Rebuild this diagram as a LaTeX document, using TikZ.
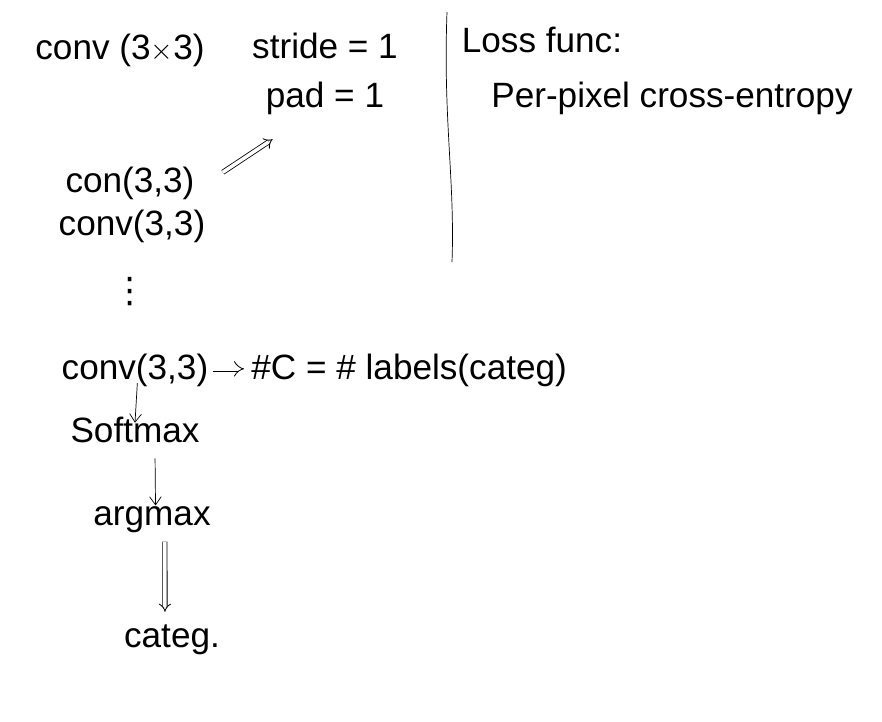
\documentclass[tikz,border=0pt]{standalone}
\usepackage{fontspec}
\setmainfont{Liberation Sans}
\newfontfamily\symfont{DejaVu Sans}
\usepackage{tikz}
\usetikzlibrary{arrows.meta, positioning}

\begin{document}
\begin{tikzpicture}[x=0.03cm, y=-0.03cm]
  \tikzset{
    txt/.style={inner sep=1pt, font=\fontsize{30}{34}\selectfont},
    arr/.style={-{Straight Barb[length=7pt, width=10pt]}, line width=0.6pt},
    dbl/.style={double, double distance=3pt, -{Implies}, line width=0.7pt},
  }
  \useasboundingbox (0,0) rectangle (882,722);
  \node[txt] (conv) at (120,50) {conv (3$\times$3)};
  \node[txt] (stride) at (325,46) {stride = 1};
  \node[txt] (pad) at (325,98) {pad = 1};
  \node[txt] (loss) at (542,40) {Loss func:};
  \node[txt] (xent) at (672,98) {Per-pixel cross-entropy};
  \node[txt] (con1) at (130,183) {con(3,3)};
  \node[txt] (con2) at (132,226) {conv(3,3)};
  \node[txt, font=\symfont\fontsize{30}{34}\selectfont] (dots) at (130,292) {⋮};
  \node[txt] (con3) at (135,370) {conv(3,3)};
  \node[txt, anchor=west] (lab) at (250,370) {\#C = \# labels(categ)};
  \node[txt] (soft) at (135,430) {Softmax};
  \node[txt] (argm) at (152,520) {argmax};
  \node[txt] (categ) at (172,640) {categ.};

  % separator
  \draw[line width=0.6pt] (447,12) .. controls (443,120) and (455,180) .. (452,262);

  \draw[dbl] ([xshift=23pt, yshift=-6pt]con1.north east) -- ([xshift=7pt, yshift=-20pt]pad.south west);
  \draw[dbl, double distance=4pt] ([xshift=3pt, yshift=1pt]con3.east) -- ([xshift=-5pt, yshift=1pt]lab.west);
  \draw[arr] ([xshift=2pt, yshift=4pt]con3.south) -- ([yshift=-6pt]soft.north);
  \draw[arr, shorten <=12pt] ([xshift=17pt]soft.south) -- ([xshift=3pt]argm.north);
  \draw[dbl, shorten <=6pt, shorten >=10pt] ([xshift=11pt]argm.south) -- ([xshift=-6pt]categ.north);
\end{tikzpicture}
\end{document}
